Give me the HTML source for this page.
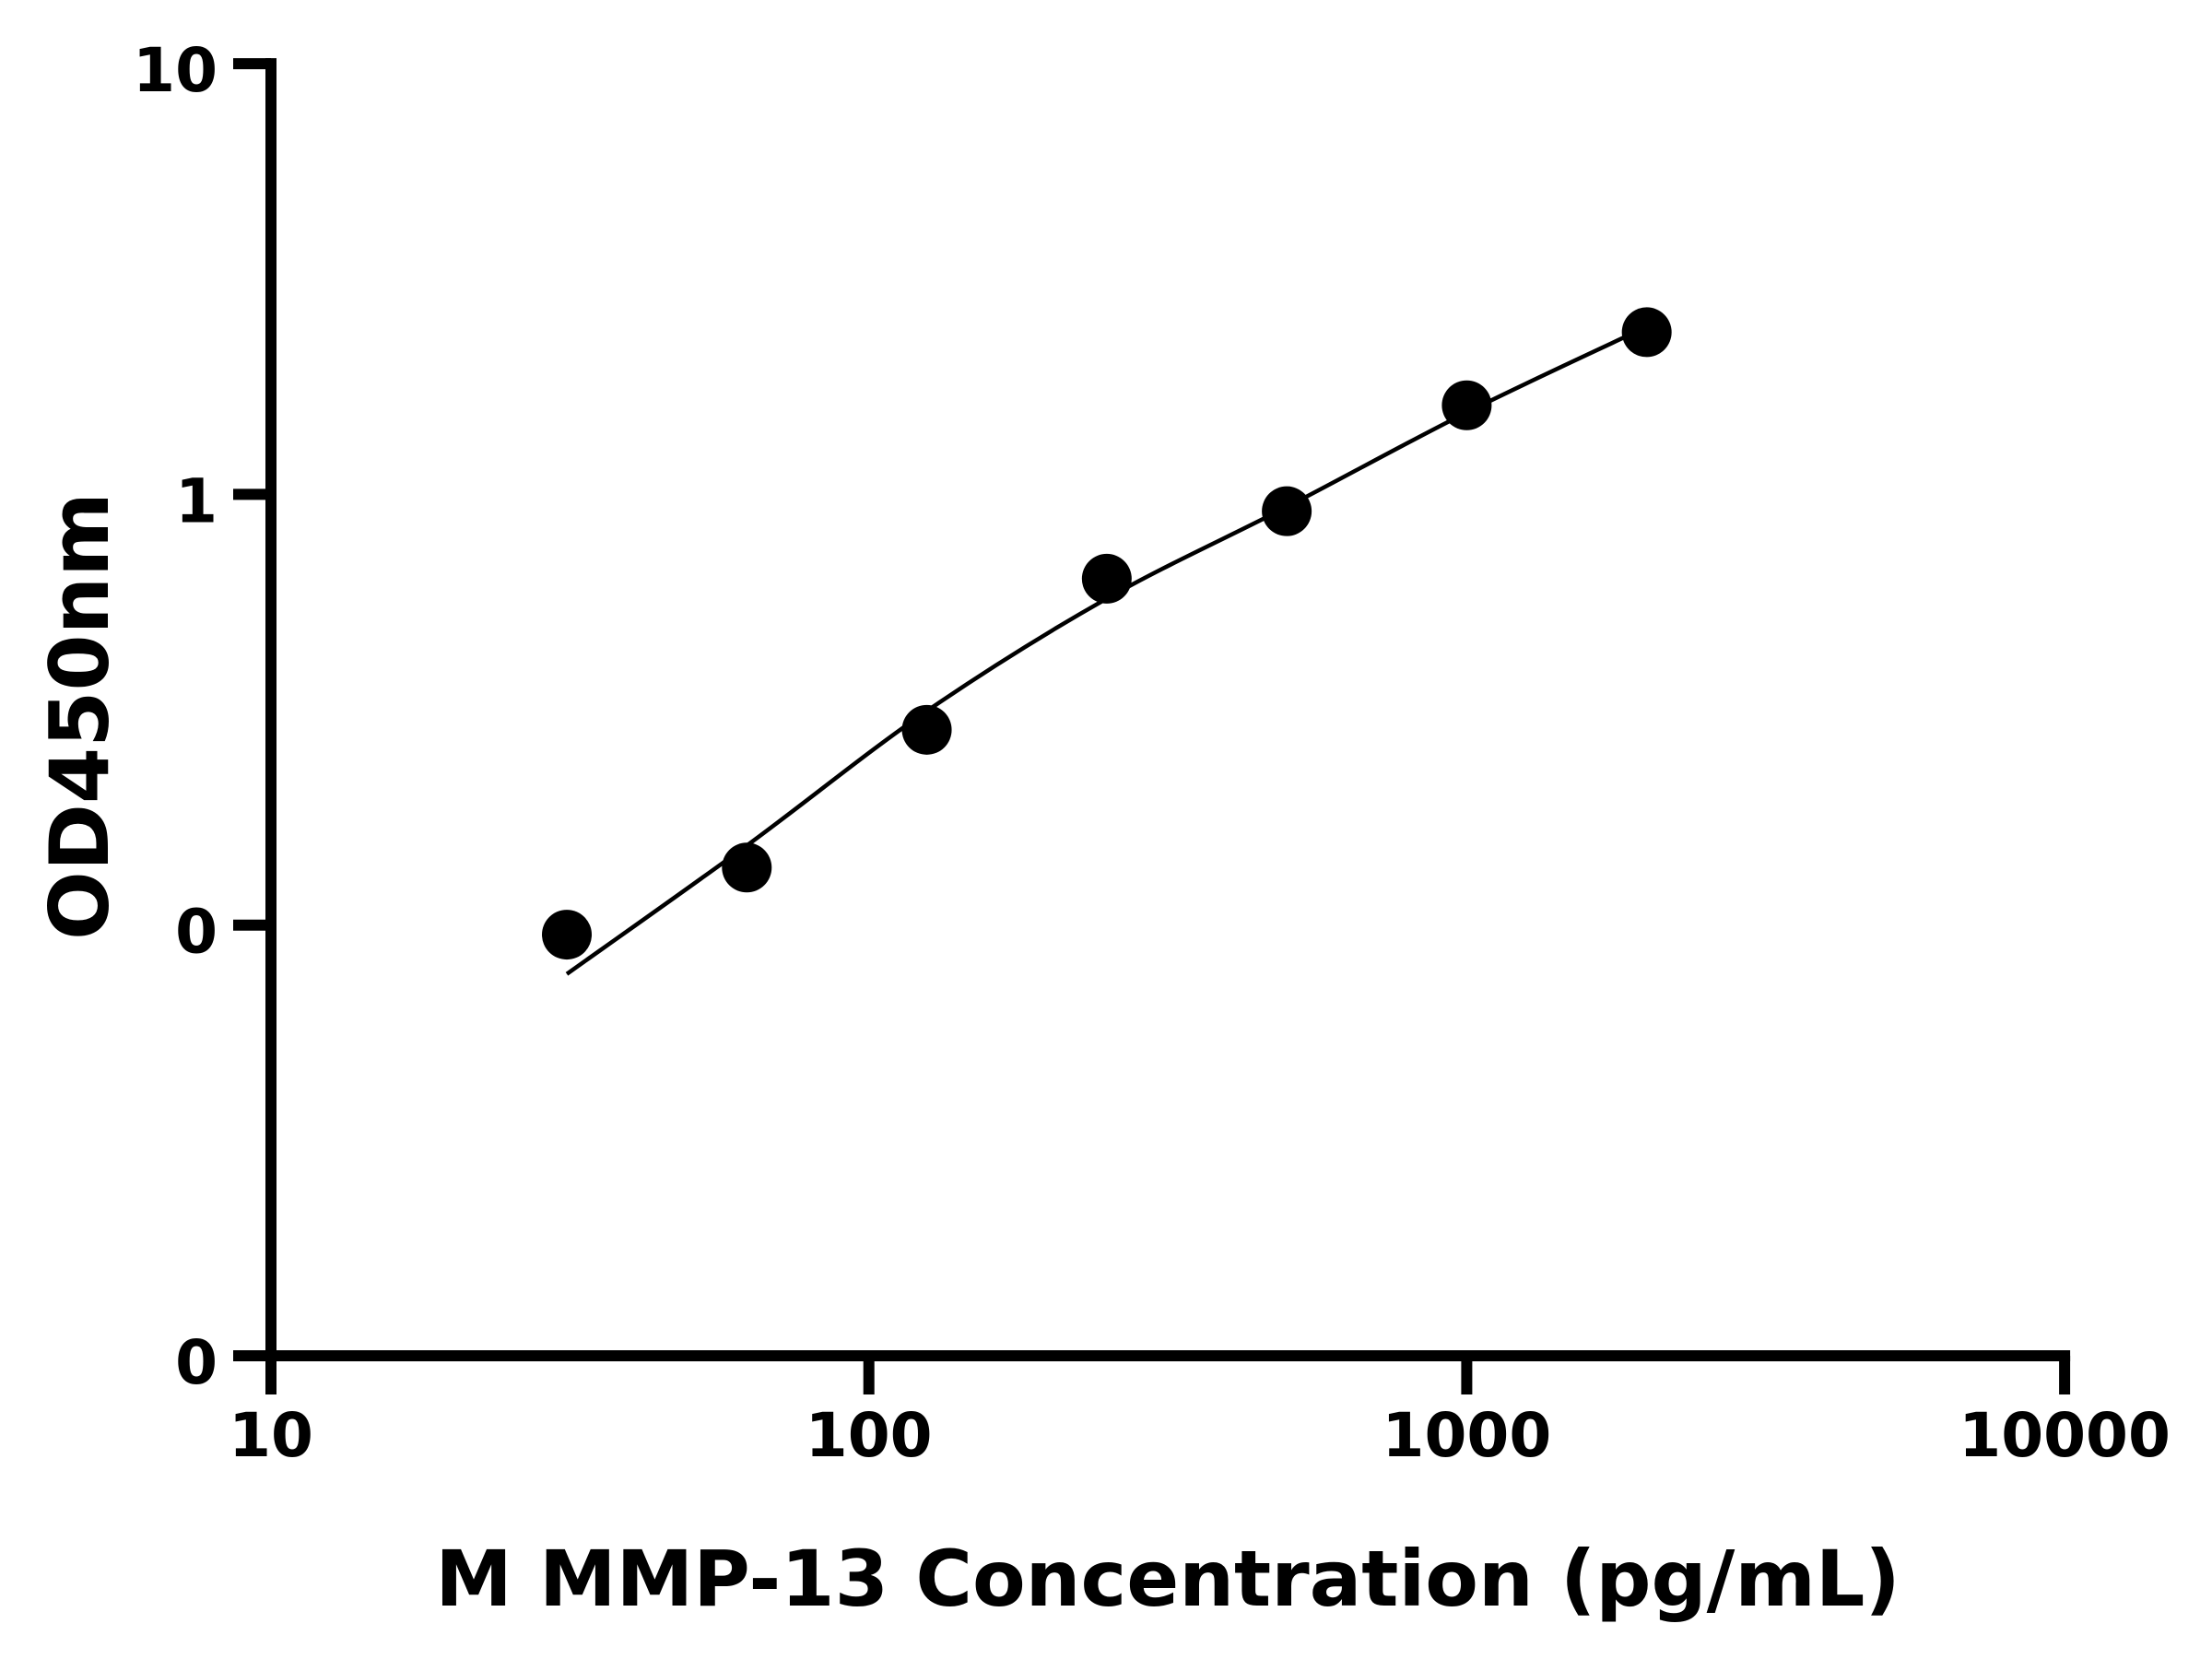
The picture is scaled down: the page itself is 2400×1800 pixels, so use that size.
<!DOCTYPE html>
<html><head><meta charset="utf-8"><style>
html,body{margin:0;padding:0;background:#fff;}
svg{display:block;font-family:"DejaVu Sans","Liberation Sans",sans-serif;font-weight:bold;}
</style></head><body>
<svg id="chart" width="2400" height="1800" viewBox="0 0 2400 1800" xmlns="http://www.w3.org/2000/svg">
<rect width="2400" height="1800" fill="#fff"/>
<g id="axes"></g>
<g id="curve-layer"></g>
<g id="points-layer"></g>
<text x="1267" y="1742" font-size="84" text-anchor="middle">M MMP-13 Concentration (pg/mL)</text>
<text x="117" y="777" font-size="88" text-anchor="middle" transform="rotate(-90 117 777)">OD450nm</text>
</svg>
<script>
const xTicks = [10, 100, 1000, 10000];
const xTickLabels = ["10", "100", "1000", "10000"];
const yTicks = [0.01, 0.1, 1, 10];
const yTickLabels = ["0", "0", "1", "10"];
const concentrations = [31.25, 62.5, 125, 250, 500, 1000, 2000];
const odValues = [0.095, 0.136, 0.284, 0.637, 0.914, 1.61, 2.38];
const curveX = [31.25, 62.5, 125, 250, 500, 1000, 2000];
const curveY = [0.077, 0.153, 0.314, 0.573, 0.935, 1.55, 2.45];

const NS = "http://www.w3.org/2000/svg";
const X0 = 294, XDEC = 648.7, Y0 = 1471, YDEC = 467.3;
function xs(v){ return X0 + (Math.log10(v) - 1) * XDEC; }
function ys(v){ return Y0 - (Math.log10(v) + 2) * YDEC; }
function mk(tag, attrs, parent){ const e = document.createElementNS(NS, tag); for (const k in attrs) e.setAttribute(k, attrs[k]); parent.appendChild(e); return e; }

const axes = document.getElementById('axes');
let yl = mk('line', {x1:X0, y1:ys(10)-6, x2:X0, y2:Y0+6, stroke:'#000', 'stroke-width':12}, axes);


let xl = mk('line', {x1:X0-6, y1:Y0, x2:xs(10000)+6, y2:Y0, stroke:'#000', 'stroke-width':12}, axes);



yTicks.forEach((v, i) => {
  const y = ys(v);
  const t = mk('line', {x1:253, y1:y, x2:X0, y2:y, stroke:'#000', 'stroke-width':12}, axes);
  
  
  const l = mk('text', {x:236, y:y+30, 'font-size':66, 'text-anchor':'end'}, axes);
  l.textContent = yTickLabels[i];
  
  
});
xTicks.forEach((v, i) => {
  const x = xs(v);
  const t = mk('line', {x1:x, y1:Y0, x2:x, y2:1513, stroke:'#000', 'stroke-width':12}, axes);
  
  
  const l = mk('text', {x:x, y:1580, 'font-size':66, 'text-anchor':'middle'}, axes);
  l.textContent = xTickLabels[i];
  
  
});

// smooth curve (Catmull-Rom through fit samples)
const P = curveX.map((c, i) => [xs(c), ys(curveY[i])]);
let d = `M${P[0][0]},${P[0][1]}`;
for (let i = 0; i < P.length - 1; i++) {
  const p0 = P[Math.max(0, i-1)], p1 = P[i], p2 = P[i+1], p3 = P[Math.min(P.length-1, i+2)];
  const c1 = [p1[0] + (p2[0]-p0[0])/6, p1[1] + (p2[1]-p0[1])/6];
  const c2 = [p2[0] - (p3[0]-p1[0])/6, p2[1] - (p3[1]-p1[1])/6];
  d += ` C${c1[0]},${c1[1]} ${c2[0]},${c2[1]} ${p2[0]},${p2[1]}`;
}
const cv = mk('path', {d:d, fill:'none', stroke:'#000', 'stroke-width':4.5}, document.getElementById('curve-layer'));



const pl = document.getElementById('points-layer');
concentrations.forEach((c, i) => {
  const p = mk('circle', {cx:xs(c), cy:ys(odValues[i]), r:27, fill:'#000'}, pl);
  
  
});
</script>
</body></html>
